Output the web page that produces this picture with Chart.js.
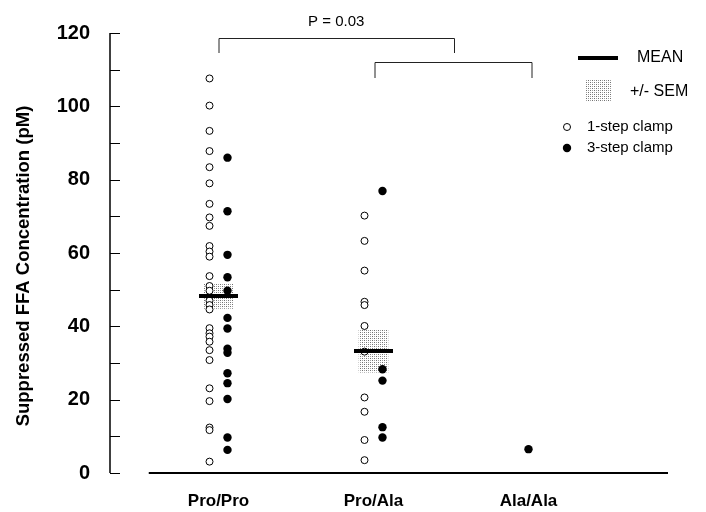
<!DOCTYPE html>
<html>
<head>
<meta charset="utf-8">
<script src="https://cdn.jsdelivr.net/npm/chart.js@4.4.1/dist/chart.umd.min.js"></script>
<style>
  html, body { margin: 0; padding: 0; background: #fff; }
  #wrap { width: 706px; height: 512px; }
</style>
</head>
<body>
<div id="wrap"><canvas id="grafico"></canvas></div>
<script>
// =====================
// Data
// =====================
const groups = ["Pro/Pro", "Pro/Ala", "Ala/Ala"];

const oneStepProPro = [107.6, 100.2, 93.3, 87.8, 83.4, 79.0, 73.4, 69.7, 67.4, 61.9, 60.4, 59.0,
  53.7, 51.0, 49.7, 47.0, 45.8, 44.6, 39.5, 38.1, 37.2, 35.8, 33.5, 30.8, 23.1, 19.6, 12.4, 11.7, 3.1];
const oneStepProAla = [70.2, 63.3, 55.2, 46.7, 45.8, 40.1, 33.1, 20.6, 16.7, 9.0, 3.5];
const oneStepAlaAla = [];

const threeStepProPro = [86.0, 71.4, 59.5, 53.4, 49.7, 42.3, 39.4, 33.9, 32.8, 27.2, 24.5, 20.2, 9.7, 6.3];
const threeStepProAla = [76.9, 28.3, 25.2, 12.5, 9.7];
const threeStepAlaAla = [6.5];

const means = [48.3, 33.3];
const semLow = [44.9, 27.5];
const semHigh = [51.5, 39.0];

const yTicks = [0, 20, 40, 60, 80, 100, 120];
const yMinorStep = 10;
const yTitle = "Suppressed FFA Concentration (pM)";
const pLabel = "P = 0.03";

// =====================
// Helpers
// =====================
const FONT = "'Liberation Sans', Arial, Helvetica, sans-serif";
Chart.defaults.font.family = FONT;
Chart.defaults.color = "#000";

const oneStepByGroup = [oneStepProPro, oneStepProAla, oneStepAlaAla];
const threeStepByGroup = [threeStepProPro, threeStepProAla, threeStepAlaAla];
const JITTER = 0.058;

function points(byGroup, side) {
  const out = [];
  byGroup.forEach((vals, g) => {
    // only shift sideways when both clamp types share the column
    const both = oneStepByGroup[g].length && threeStepByGroup[g].length;
    const dx = both ? side * JITTER : 0;
    vals.forEach((v) => out.push({ x: g + 1 + dx, y: v }));
  });
  return out;
}

const canvas = document.getElementById("grafico");
const ctx = canvas.getContext("2d");

function stipple() {
  const t = document.createElement("canvas");
  t.width = 4;
  t.height = 4;
  const g = t.getContext("2d");
  g.fillStyle = "#fff";
  g.fillRect(0, 0, 4, 4);
  g.fillStyle = "#707070";
  g.fillRect(0, 0, 1, 1);
  g.fillRect(2, 2, 1, 1);
  g.fillStyle = "#a0a0a0";
  g.fillRect(2, 0, 1, 1);
  g.fillRect(0, 2, 1, 1);
  return ctx.createPattern(t, "repeat");
}
const semFill = stipple();

// =====================
// Axes, brackets, legend
// =====================
const decor = {
  id: "decor",
  beforeDatasetsDraw(chart) {
    const c = chart.ctx;
    const y = chart.scales.y;
    const x = chart.scales.x;
    const area = chart.chartArea;
    c.save();
    c.strokeStyle = "#000";
    // y axis with inward ticks
    c.lineWidth = 1.5;
    c.beginPath();
    c.moveTo(area.left, y.getPixelForValue(y.max));
    c.lineTo(area.left, y.getPixelForValue(y.min));
    c.stroke();
    c.lineWidth = 1;
    for (let v = y.min; v <= y.max; v += yMinorStep) {
      const py = Math.round(y.getPixelForValue(v)) + 0.5;
      c.beginPath();
      c.moveTo(area.left, py);
      c.lineTo(area.left + 10, py);
      c.stroke();
    }
    // x axis line starts right of the y axis
    c.lineWidth = 2;
    c.beginPath();
    c.moveTo(x.getPixelForValue(0.55), area.bottom);
    c.lineTo(area.right, area.bottom);
    c.stroke();
    c.restore();
  },
  afterDraw(chart) {
    const c = chart.ctx;
    const x = chart.scales.x;
    const area = chart.chartArea;
    c.save();

    // y title
    c.translate(24, (area.top + area.bottom) / 2 + 13);
    c.rotate(-Math.PI / 2);
    c.font = "bold 18.5px " + FONT;
    c.textAlign = "center";
    c.textBaseline = "middle";
    c.fillStyle = "#000";
    c.fillText(yTitle, 0, 0);
    c.setTransform(1, 0, 0, 1, 0, 0);

    // comparison brackets
    c.strokeStyle = "#222";
    c.lineWidth = 1;
    const g1 = x.getPixelForValue(1);
    const g2 = x.getPixelForValue(2);
    const g3 = x.getPixelForValue(3);
    const mid23 = (g2 + g3) / 2 + 3;
    const bracket = (x0, x1, top, drop) => {
      c.beginPath();
      c.moveTo(x0 + 0.5, top + drop);
      c.lineTo(x0 + 0.5, top + 0.5);
      c.lineTo(x1 + 0.5, top + 0.5);
      c.lineTo(x1 + 0.5, top + drop);
      c.stroke();
    };
    bracket(g1, mid23, 38, 15);
    bracket(g2 + 1, g3 + 3, 62, 16);
    c.font = "15px " + FONT;
    c.textAlign = "center";
    c.textBaseline = "middle";
    c.fillStyle = "#000";
    c.fillText(pLabel, (g1 + mid23) / 2, 22);

    // legend
    c.textAlign = "left";
    c.lineWidth = 4;
    c.strokeStyle = "#000";
    c.beginPath();
    c.moveTo(578, 58);
    c.lineTo(618, 58);
    c.stroke();
    c.font = "16px " + FONT;
    c.fillText("MEAN", 637, 58);
    c.fillStyle = semFill;
    c.fillRect(585, 80, 27, 22);
    c.fillStyle = "#000";
    c.fillText("+/- SEM", 630, 92);

    c.lineWidth = 1;
    c.beginPath();
    c.arc(567, 127, 3.5, 0, Math.PI * 2);
    c.fillStyle = "#fff";
    c.fill();
    c.stroke();
    c.beginPath();
    c.arc(567, 148, 4.2, 0, Math.PI * 2);
    c.fillStyle = "#000";
    c.fill();
    c.font = "15px " + FONT;
    c.fillText("1-step clamp", 587, 127);
    c.fillText("3-step clamp", 587, 148);
    c.restore();
  },
};

// =====================
// Chart
// =====================
new Chart(ctx, {
  type: "scatter",
  data: {
    datasets: [
      {
        label: "MEAN",
        data: means.map((m, i) => ({ x: i + 1, y: m })),
        pointStyle: "line",
        pointRadius: 19.5,
        pointBorderWidth: 4,
        pointBorderColor: "#000",
        borderColor: "#000",
        order: 0,
      },
      {
        label: "1-step clamp",
        data: points(oneStepByGroup, -1),
        pointStyle: "circle",
        pointRadius: 3.5,
        pointBorderWidth: 1,
        pointBorderColor: "#000",
        pointBackgroundColor: "#fff",
        order: 1,
      },
      {
        label: "3-step clamp",
        data: points(threeStepByGroup, 1),
        pointStyle: "circle",
        pointRadius: 4.2,
        pointBorderWidth: 0,
        pointBackgroundColor: "#000",
        order: 2,
      },
      {
        type: "bar",
        label: "+/- SEM",
        data: means.map((m, i) => ({ x: i + 1, y: [semLow[i], semHigh[i]] })),
        backgroundColor: semFill,
        borderWidth: 0,
        barThickness: 29,
        order: 3,
      },
    ],
  },
  options: {
    responsive: true,
    maintainAspectRatio: false,
    animation: false,
    layout: { padding: { top: 33, right: 38, left: 0, bottom: 0 } },
    plugins: { legend: { display: false }, tooltip: { enabled: false } },
    scales: {
      x: {
        type: "linear",
        min: 0.3,
        max: 3.9,
        offset: false,
        grid: { display: false, drawTicks: false, offset: false },
        border: { display: false },
        afterBuildTicks: (s) => { s.ticks = groups.map((_, i) => ({ value: i + 1 })); },
        afterFit: (s) => { s.height = 39; },
        ticks: {
          callback: (v) => groups[v - 1],
          font: { size: 17, weight: "bold" },
          color: "#000",
          padding: 18,
          maxRotation: 0,
          autoSkip: false,
        },
      },
      y: {
        min: 0,
        max: 120,
        grid: { display: false, drawTicks: false },
        border: { display: false },
        afterBuildTicks: (s) => { s.ticks = yTicks.map((v) => ({ value: v })); },
        afterFit: (s) => { s.width = 110; },
        ticks: {
          font: { size: 20, weight: "bold" },
          color: "#000",
          padding: 20,
        },
      },
    },
  },
  plugins: [decor],
});
</script>
</body>
</html>
